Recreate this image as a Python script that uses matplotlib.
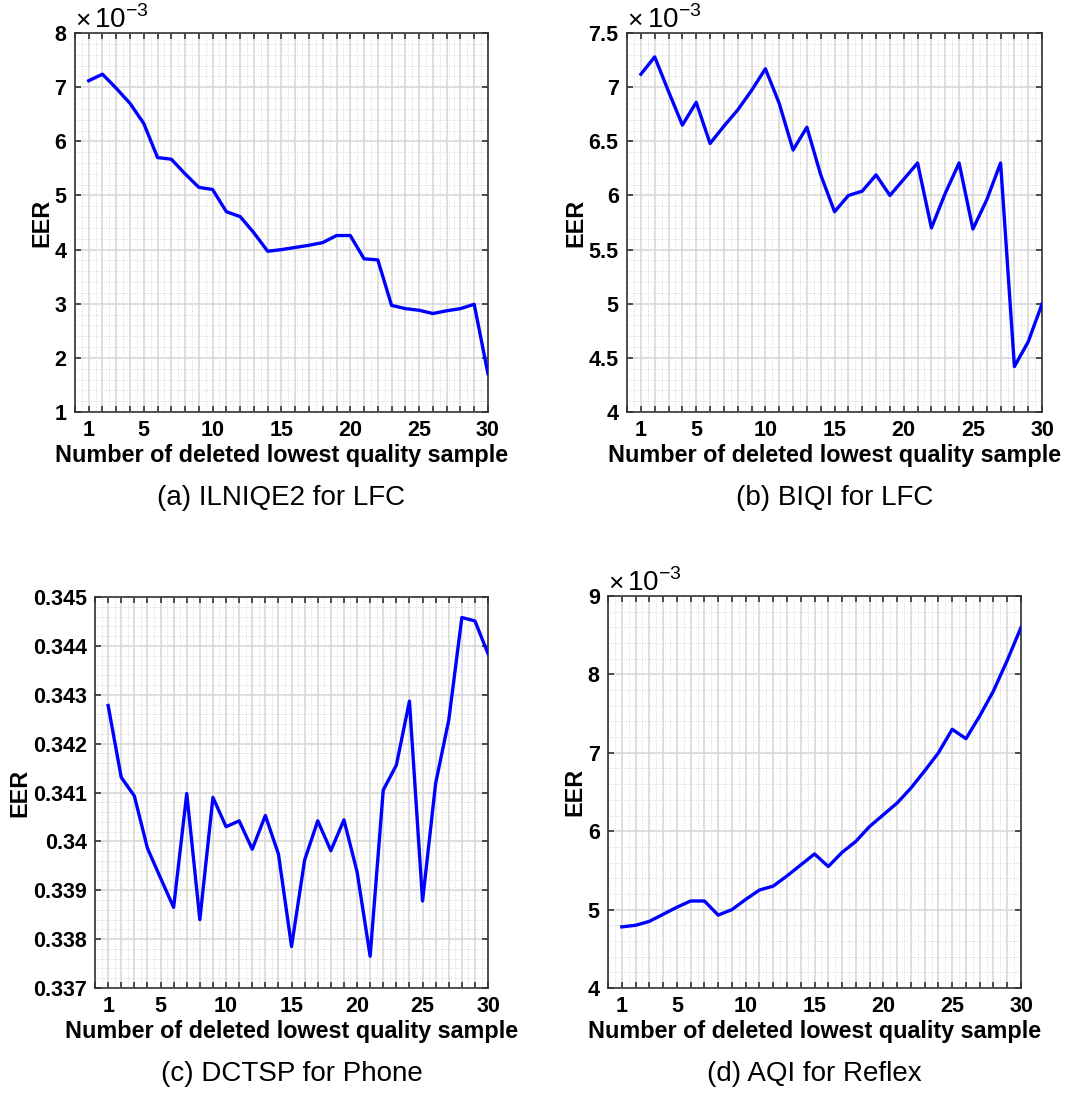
import numpy as np
import matplotlib.pyplot as plt
from matplotlib.ticker import MultipleLocator, FuncFormatter

plt.rcParams['font.family'] = ['Liberation Sans', 'DejaVu Sans']
plt.rcParams['mathtext.fontset'] = 'custom'
plt.rcParams['mathtext.rm'] = 'Liberation Sans'

# number of deleted lowest quality samples
n_deleted = np.arange(1, 31)

# EER curves for each quality metric
eer_ilniqe2_lfc = np.array([
    7.12, 7.24, 6.98, 6.70, 6.33, 5.70, 5.67, 5.40, 5.15, 5.11,
    4.70, 4.61, 4.31, 3.97, 4.00, 4.04, 4.08, 4.13, 4.26, 4.26,
    3.83, 3.81, 2.97, 2.91, 2.88, 2.82, 2.87, 2.91, 2.99, 1.71]) * 1e-3

eer_biqi_lfc = np.array([
    7.12, 7.28, 6.96, 6.65, 6.86, 6.48, 6.64, 6.79, 6.97, 7.17,
    6.85, 6.42, 6.63, 6.19, 5.85, 6.00, 6.04, 6.19, 6.00, 6.15,
    6.30, 5.70, 6.02, 6.30, 5.69, 5.96, 6.30, 4.42, 4.65, 5.00]) * 1e-3

eer_dctsp_phone = np.array([
    0.34278, 0.34131, 0.34093, 0.33986, 0.33925, 0.33865, 0.34098, 0.33840, 0.34090, 0.34030,
    0.34042, 0.33984, 0.34053, 0.33974, 0.33785, 0.33962, 0.34042, 0.33981, 0.34044, 0.33938,
    0.33765, 0.34105, 0.34156, 0.34287, 0.33878, 0.34119, 0.34248, 0.34458, 0.34451, 0.34384])

eer_aqi_reflex = np.array([
    4.78, 4.80, 4.85, 4.94, 5.03, 5.11, 5.11, 4.93, 5.00, 5.13,
    5.25, 5.30, 5.43, 5.57, 5.71, 5.55, 5.73, 5.87, 6.06, 6.21,
    6.36, 6.55, 6.77, 7.00, 7.30, 7.18, 7.47, 7.79, 8.18, 8.60]) * 1e-3

captions = ["(a) ILNIQE2 for LFC", "(b) BIQI for LFC",
            "(c) DCTSP for Phone", "(d) AQI for Reflex"]

x_tick_labels = [1, 5, 10, 15, 20, 25, 30]

fig = plt.figure(figsize=(10.8, 11.13), dpi=100)

# [left, bottom, width, height] for each panel
positions = [
    [0.0694, 0.6298, 0.3824, 0.3405],
    [0.5806, 0.6298, 0.3843, 0.3405],
    [0.0880, 0.1123, 0.3639, 0.3513],
    [0.5630, 0.1123, 0.3824, 0.3522],
]

panels = [
    (eer_ilniqe2_lfc, (1e-3, 8e-3), 1e-3, 1e-3),
    (eer_biqi_lfc, (4e-3, 7.5e-3), 0.5e-3, 1e-3),
    (eer_dctsp_phone, (0.337, 0.345), 0.001, None),
    (eer_aqi_reflex, (4e-3, 9e-3), 1e-3, 1e-3),
]

grey = '#d6d6d6'

for k, (eer, ylim, ystep, scale) in enumerate(panels):
    ax = fig.add_axes(positions[k])
    ax.plot(n_deleted, eer, color=(0, 0, 1), linewidth=2.4, zorder=3)

    ax.set_xlim(0, 30)
    ax.set_ylim(*ylim)
    ax.xaxis.set_major_locator(MultipleLocator(1))
    ax.xaxis.set_minor_locator(MultipleLocator(0.5))
    ax.yaxis.set_major_locator(MultipleLocator(ystep))
    ax.yaxis.set_minor_locator(MultipleLocator(ystep / 5))

    ax.xaxis.set_major_formatter(
        FuncFormatter(lambda v, p: str(int(round(v))) if int(round(v)) in x_tick_labels else ''))
    if scale is not None:
        ax.yaxis.set_major_formatter(FuncFormatter(lambda v, p, s=scale: f'{v / s:g}'))
        # exponent multiplier above the top-left corner
        ax.text(0.0, 1.0, '\u00d7', transform=ax.transAxes,
                fontsize=19, ha='left', va='bottom')
        ax.text(0.047, 0.998, r'10$^{-3}$', transform=ax.transAxes,
                fontsize=20, ha='left', va='bottom')
    else:
        ax.yaxis.set_major_formatter(FuncFormatter(lambda v, p: f'{v:.3f}'.rstrip('0')))

    ax.grid(which='major', color=grey, linewidth=1.1, linestyle='-')
    ax.grid(which='minor', color=grey, linewidth=0.7, linestyle=':')
    ax.set_axisbelow(True)

    ax.tick_params(which='major', direction='in', length=4, width=1.2,
                   top=True, right=True, labelsize=15.5, pad=6, color='#333333')
    ax.tick_params(which='minor', length=0)
    for lab in ax.get_xticklabels() + ax.get_yticklabels():
        lab.set_fontweight('bold')
    for sp in ax.spines.values():
        sp.set_color('#333333')
        sp.set_linewidth(1.2)

    ax.set_xlabel('Number of deleted lowest quality sample', fontsize=16.8,
                  fontweight='bold', labelpad=2)
    ax.set_ylabel('EER', fontsize=16.8, fontweight='bold', labelpad=1)

    bb = ax.get_position()
    cap_y = bb.y0 - 0.077
    fig.text(bb.x0 + bb.width / 2, cap_y, captions[k], fontsize=20,
             ha='center', va='center')

fig.savefig('out.png', dpi=100)
